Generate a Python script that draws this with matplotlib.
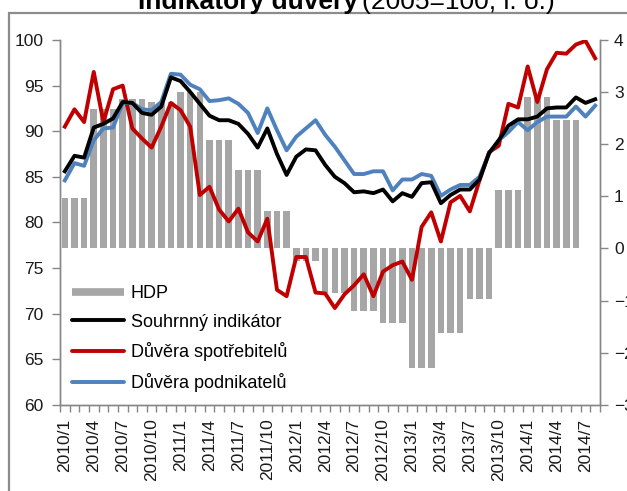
import matplotlib
matplotlib.use("Agg")
import matplotlib.pyplot as plt
from matplotlib.lines import Line2D
from matplotlib.patches import Rectangle
import numpy as np

plt.rcParams['font.family'] = ['Liberation Sans', 'DejaVu Sans']

# ---- data (monthly, 2010/1 .. 2014/8) ----
months = [f"{y}/{m}" for y in range(2010, 2015) for m in range(1, 13)][:56]

tick_labels = ["2010/1", "2010/4", "2010/7", "2010/10", "2011/1", "2011/4", "2011/7",
               "2011/10", "2012/1", "2012/4", "2012/7", "2012/10", "2013/1", "2013/4",
               "2013/7", "2013/10", "2014/1", "2014/4", "2014/7"]

souhrnny = [85.6, 87.3, 87.1, 90.4, 90.8, 91.4, 93.2, 93.1, 92.0, 91.8, 92.7, 95.9,
            95.5, 94.3, 93.0, 91.7, 91.2, 91.2, 90.8, 89.7, 88.2, 90.3, 87.5, 85.2,
            87.2, 88.0, 87.9, 86.3, 85.0, 84.3, 83.3, 83.4, 83.2, 83.6, 82.3, 83.2,
            82.8, 84.3, 84.4, 82.1, 83.0, 83.6, 83.6, 84.7, 87.6, 89.0, 90.6, 91.3,
            91.3, 91.6, 92.5, 92.6, 92.6, 93.7, 93.1, 93.5]

spotrebitele = [90.5, 92.4, 91.0, 96.5, 91.0, 94.6, 95.0, 90.3, 89.2, 88.2, 90.5, 93.1,
                92.3, 90.5, 83.0, 83.9, 81.4, 80.1, 81.5, 78.9, 77.9, 80.4, 72.6, 71.9,
                76.2, 76.2, 72.3, 72.2, 70.6, 72.1, 73.1, 74.3, 71.9, 74.6, 75.3, 75.7,
                73.7, 79.5, 81.1, 77.9, 82.2, 82.9, 81.2, 84.6, 87.7, 88.4, 93.0, 92.6,
                97.1, 93.2, 96.8, 98.6, 98.5, 99.5, 99.9, 98.0]

podnikatele = [84.6, 86.5, 86.2, 89.0, 90.3, 90.4, 93.1, 93.1, 92.4, 92.3, 93.2, 96.3,
               96.2, 95.1, 94.6, 93.3, 93.4, 93.6, 93.0, 92.0, 89.8, 92.5, 90.1, 87.9,
               89.4, 90.3, 91.2, 89.6, 88.3, 86.8, 85.3, 85.3, 85.6, 85.6, 83.5, 84.7,
               84.7, 85.3, 85.1, 82.9, 83.6, 84.1, 84.1, 85.0, 87.6, 89.0, 89.9, 91.0,
               90.1, 91.0, 91.6, 91.6, 91.6, 92.7, 91.6, 92.8]

hdp = [0.96, 0.96, 0.96, 2.67, 2.67, 2.67, 2.86, 2.86, 2.86, 2.81, 2.81, 2.81,
       3.00, 3.00, 3.00, 2.08, 2.08, 2.08, 1.50, 1.50, 1.50, 0.72, 0.72, 0.72,
       -0.25, -0.25, -0.25, -0.86, -0.86, -0.86, -1.21, -1.21, -1.21, -1.44, -1.44, -1.44,
       -2.30, -2.30, -2.30, -1.63, -1.63, -1.63, -0.98, -0.98, -0.98, 1.12, 1.12, 1.12,
       2.91, 2.91, 2.91, 2.47, 2.47, 2.47, np.nan, np.nan]

# ---- figure ----
W, H = 627, 491
fig = plt.figure(figsize=(W / 100, H / 100), dpi=100)
ax = fig.add_axes([60 / W, 1 - 404.7 / H, 540 / W, 364.7 / H])
ax2 = ax.twinx()

x = np.arange(len(months))
grey = '#a6a6a6'
ax2.bar(x, hdp, width=0.68, color=grey, zorder=1)

lw = 2.8
ax.plot(x, souhrnny, color='black', lw=lw, solid_joinstyle='round', zorder=3)
ax.plot(x, spotrebitele, color='#c00000', lw=lw, solid_joinstyle='round', zorder=2)
ax.plot(x, podnikatele, color='#4f81bd', lw=lw, solid_joinstyle='round', zorder=2)

ax.set_zorder(ax2.get_zorder() + 1)
ax.patch.set_visible(False)

ax.set_xlim(-0.5, len(months) - 0.5)
ax.set_ylim(60, 100)
ax2.set_ylim(-3, 4)
ax.set_yticks(np.arange(60, 101, 5))
ax2.set_yticks(np.arange(-3, 5, 1))

spine_c = '#868686'
for a in (ax, ax2):
    for s in a.spines.values():
        s.set_color(spine_c)
        s.set_linewidth(1.0)
    a.spines['top'].set_visible(False)

# x ticks: marks at month boundaries, labels every 3 months
ax.set_xticks(np.arange(-0.5, len(months) + 0.5, 1))
ax.set_xticklabels([])
ax.tick_params(axis='x', which='major', length=5, color=spine_c, width=1)
label_pos = [months.index(t) for t in tick_labels]
ax.set_xticks(label_pos, minor=True)
ax.set_xticklabels(tick_labels, minor=True, rotation=90, fontsize=12.5, color='#1a1a1a')
ax.tick_params(axis='x', which='minor', length=0, pad=10)

ax.tick_params(axis='y', length=6, color=spine_c, width=1, labelsize=12.5,
               labelcolor='#1a1a1a', pad=6)
ax2.tick_params(axis='y', length=6, color=spine_c, width=1, labelsize=12.5,
                labelcolor='#1a1a1a', pad=4)

# legend
handles = [Line2D([], [], color=grey, lw=5.5, solid_capstyle='butt'),
           Line2D([], [], color='black', lw=lw, solid_capstyle='round'),
           Line2D([], [], color='#c00000', lw=lw, solid_capstyle='round'),
           Line2D([], [], color='#4f81bd', lw=lw, solid_capstyle='round')]
labels = ['HDP', 'Souhrnný indikátor', 'Důvěra spotřebitelů', 'Důvěra podnikatelů']
fig.legend(handles, labels, loc='upper left', bbox_to_anchor=(72 / W, 1 - 285 / H),
           frameon=False, fontsize=13, handlelength=2.9, handletextpad=0.35,
           labelspacing=0.65, borderpad=0, borderaxespad=0)

# title (cut off at top, as in the reference)
fig.text(358 / W, 1 - 8.5 / H, 'Indikátory důvěry', ha='right', va='baseline',
         fontsize=19, fontweight='bold')
fig.text(362 / W, 1 - 8.5 / H, '(2005=100, i. o.)', ha='left', va='baseline',
         fontsize=19)

# chart-area border (only top and left visible)
fig.add_artist(Rectangle((9 / W, -0.2), 1.5, 1.2 - 13 / H, transform=fig.transFigure,
                         fill=False, edgecolor='#8c8c8c', lw=1.6))

fig.savefig('out.png', dpi=100)
